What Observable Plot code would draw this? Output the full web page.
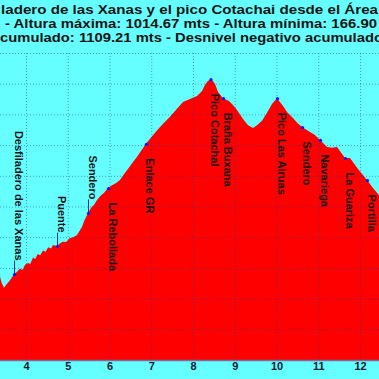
<!DOCTYPE html>
<html>
<head>
<meta charset="utf-8">
<script src="https://cdn.jsdelivr.net/npm/d3@7"></script>
<script src="https://cdn.jsdelivr.net/npm/@observablehq/plot@0.6"></script>
<style>
  html, body { margin: 0; padding: 0; background: #66ffff; width: 379px; height: 379px; overflow: hidden; }
  #header { display: block; }
  #chart svg { display: block; }
</style>
</head>
<body>
<svg id="header" width="379" height="50"></svg>
<div id="chart"></div>
<script>
// ---- Title lines (cropped in the reference) ----
const titleLines = [
  "ladero de las Xanas  y el pico Cotachai desde el Área",
  "- Altura máxima: 1014.67 mts - Altura mínima: 166.90",
  "cumulado: 1109.21 mts - Desnivel negativo acumulado"
];

// ---- Profile (distance km, elevation m) ----
const distKm = [3.377, 3.42, 3.473, 3.53, 3.593, 3.65, 3.713, 3.78, 3.85, 3.92, 3.976, 4.05, 4.10, 4.168, 4.22, 4.28, 4.34, 4.407, 4.47, 4.53, 4.60, 4.647, 4.743, 4.80, 4.88, 4.96, 5.054, 5.13, 5.222, 5.28, 5.341, 5.40, 5.485, 5.56, 5.63, 5.701, 5.78, 5.87, 5.964, 6.05, 6.15, 6.251, 6.35, 6.45, 6.563, 6.66, 6.77, 6.874, 6.98, 7.09, 7.21, 7.33, 7.449, 7.617, 7.76, 7.928, 8.096, 8.216, 8.287, 8.35, 8.419, 8.47, 8.527, 8.599, 8.719, 8.862, 8.958, 9.054, 9.198, 9.317, 9.437, 9.533, 9.653, 9.772, 9.892, 10.012, 10.156, 10.251, 10.395, 10.50, 10.611, 10.802, 10.922, 11.042, 11.21, 11.329, 11.449, 11.55, 11.641, 11.76, 11.952, 12.06, 12.168, 12.311, 12.455];
const elevM = [372, 350, 335, 346, 356, 366, 380, 387, 397, 394, 410, 416, 413, 434, 429, 445, 441, 457, 453, 467, 463, 475, 471, 479, 485, 484, 497, 500, 507, 520, 533, 555, 579, 596, 606, 621, 634, 645, 660, 668, 676, 686, 706, 724, 745, 762, 784, 804, 822, 840, 859, 876, 892, 918, 940, 950, 960, 976, 996, 1008, 1014.67, 1010, 999, 973, 953, 944, 931, 914, 885, 865, 856, 865, 879, 905, 934, 953, 927, 908, 888, 872, 859, 843, 833, 817, 794, 791, 794, 775, 758, 758, 722, 704, 686, 660, 637];

// ---- Waypoints ----
const wpNames = ["Desfiladero de las Xanas", "Puente", "Sendero", "La Rebollada", "Enlace GR", "Pico Cotachal", "Braña Buxana", "Pico Las Airuas", "Sendero", "Navariega", "La Guariza", "Portilla"];
const wpKm = [3.713, 4.743, 5.485, 5.964, 6.874, 8.419, 8.719, 10.012, 10.611, 11.042, 11.641, 12.168];
const wpElev = [380, 471, 579, 660, 804, 1014.67, 953, 953, 859, 817, 758, 686];

// ---- Axis ticks ----
const kmTicks = [4, 5, 6, 7, 8, 9, 10, 11, 12];
const elevTicks = [100, 200, 300, 400, 500, 600, 700, 800, 900, 1000, 1100];

// Header text
const header = document.getElementById("header");
const ns = "http://www.w3.org/2000/svg";
const titleLayout = [
  {x: 1, y: 13.5, len: 377},
  {x: 5, y: 27.5, len: 372},
  {x: 0, y: 41.8, len: 383}
];
titleLines.forEach((t, i) => {
  const el = document.createElementNS(ns, "text");
  el.setAttribute("x", titleLayout[i].x);
  el.setAttribute("y", titleLayout[i].y);
  el.setAttribute("textLength", titleLayout[i].len);
  el.setAttribute("lengthAdjust", "spacingAndGlyphs");
  el.setAttribute("font-family", "Liberation Sans, Arial, sans-serif");
  el.setAttribute("font-weight", "bold");
  el.setAttribute("font-size", "13");
  el.setAttribute("fill", "#141414");
  el.textContent = t;
  header.appendChild(el);
});

const profile = distKm.map((k, i) => ({km: k, ele: elevM[i]}));
const waypoints = wpNames.map((n, i) => ({name: n, km: wpKm[i], ele: wpElev[i]}));
const above = waypoints.filter(d => d.ele < 600);
const below = waypoints.filter(d => d.ele >= 600);

const gridStyle = {stroke: "#1a3aa0", strokeOpacity: 0.5, strokeDasharray: "1,2", strokeWidth: 1};

const chart = Plot.plot({
  width: 379,
  height: 329,
  marginTop: 3,
  marginBottom: 19,
  marginLeft: 0,
  marginRight: 0,
  style: {background: "#66ffff", fontFamily: "Liberation Sans, Arial, sans-serif", fontSize: "11px", fontWeight: "bold", color: "#14202e", overflow: "hidden"},
  x: {domain: [3.377, 12.455], ticks: kmTicks, tickSize: 0, tickPadding: 2, tickFormat: d => String(d), label: null},
  y: {domain: [100, 1100], axis: null},
  marks: [
    Plot.areaY(profile, {x: "km", y1: 100, y2: "ele", fill: "#ff0000", curve: "linear"}),
    Plot.ruleX(kmTicks, {...gridStyle}),
    Plot.ruleY(elevTicks, {...gridStyle}),
    Plot.ruleY([100], {stroke: "#7070a0", strokeWidth: 1.5}),
    Plot.ruleX(above, {x: "km", y1: "ele", y2: d => d.ele + 44, stroke: "#20308a", strokeWidth: 1}),
    Plot.dot(waypoints, {x: "km", y: "ele", r: 1.6, fill: "#1010ff", stroke: null}),
    Plot.text(above, {x: "km", y: "ele", text: "name", rotate: 90, textAnchor: "end", lineAnchor: "bottom", dy: -14, fontSize: 11, fontWeight: "bold", fill: "#141414"}),
    Plot.text(below, {x: "km", y: "ele", text: "name", rotate: 90, textAnchor: "start", lineAnchor: "bottom", dy: 14, fontSize: 11, fontWeight: "bold", fill: "#141414"})
  ]
});
document.getElementById("chart").appendChild(chart);
</script>
</body>
</html>
